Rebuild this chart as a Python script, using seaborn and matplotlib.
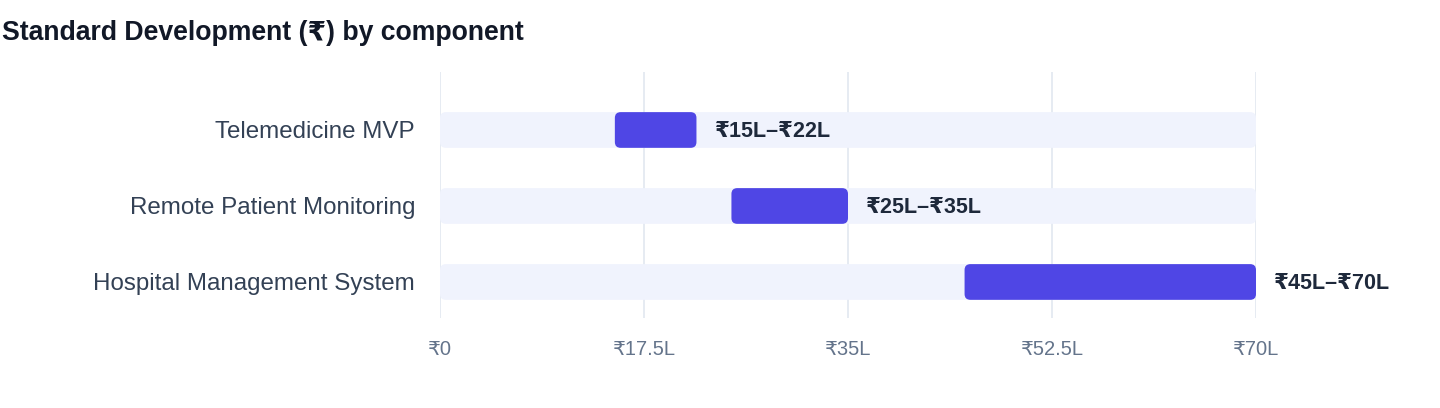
import numpy as np
import pandas as pd
import matplotlib.pyplot as plt
import seaborn as sns
from matplotlib.patches import FancyBboxPatch

# data
components = ['Telemedicine MVP', 'Remote Patient Monitoring', 'Hospital Management System']
low = [15, 25, 45]
high = [22, 35, 70]
range_labels = ['₹15L–₹22L', '₹25L–₹35L', '₹45L–₹70L']
track_max = 70
ticks = [0, 17.5, 35, 52.5, 70]
tick_labels = ['₹0', '₹17.5L', '₹35L', '₹52.5L', '₹70L']

sns.set_style('white')
plt.rcParams['font.family'] = ['Liberation Sans', 'DejaVu Sans']

df = pd.DataFrame({'component': components, 'low': low, 'high': high,
                   'track': [track_max] * len(components)})

fig = plt.figure(figsize=(14.4, 4.08), dpi=100)
ax = fig.add_axes([440 / 1440, 90 / 408, 816 / 1440, 246 / 408])

# background track + range bars
sns.barplot(data=df, x='track', y='component', orient='h', color='#EEF2FF',
            width=0.47, ax=ax, zorder=2)
ax.barh(df['component'], df['high'] - df['low'], left=df['low'], height=0.47,
        color='#4F46E5', zorder=3)

ax.set_xlim(0, 70)
ax.set_ylim(2.474, -0.763)

# round the bar corners
aspect = (1 / 76) / (1 / (816 / 70))
for p in list(ax.patches):
    x, y = p.get_x(), p.get_y()
    w, h = p.get_width(), p.get_height()
    rp = FancyBboxPatch((x, y), w, h, boxstyle='round,pad=0,rounding_size=0.5',
                        mutation_aspect=aspect, facecolor=p.get_facecolor(),
                        edgecolor='none', zorder=p.get_zorder())
    p.remove()
    ax.add_patch(rp)

for i, lab in enumerate(range_labels):
    ax.annotate(lab, (df['high'][i], i), xytext=(13, -1), textcoords='offset points',
                va='center', ha='left', fontsize=15.5, fontweight='bold',
                color='#1E293B', annotation_clip=False)

ax.set_xticks(ticks)
ax.set_xticklabels(tick_labels)
ax.tick_params(axis='x', length=0, pad=16, labelsize=14.5, labelcolor='#64748B')
ax.tick_params(axis='y', length=0, pad=18, labelsize=17.4, labelcolor='#334155')
ax.set_xlabel('')
ax.set_ylabel('')
ax.grid(axis='x', color='#E2E8F0', linewidth=1.2, zorder=0)
ax.set_axisbelow(True)
sns.despine(ax=ax, left=True, bottom=True)

fig.text(0.0015, 0.92, 'Standard Development (₹) by component', fontsize=19.2,
         fontweight='bold', color='#111827', va='center', ha='left')

fig.savefig('out.png', dpi=100)
